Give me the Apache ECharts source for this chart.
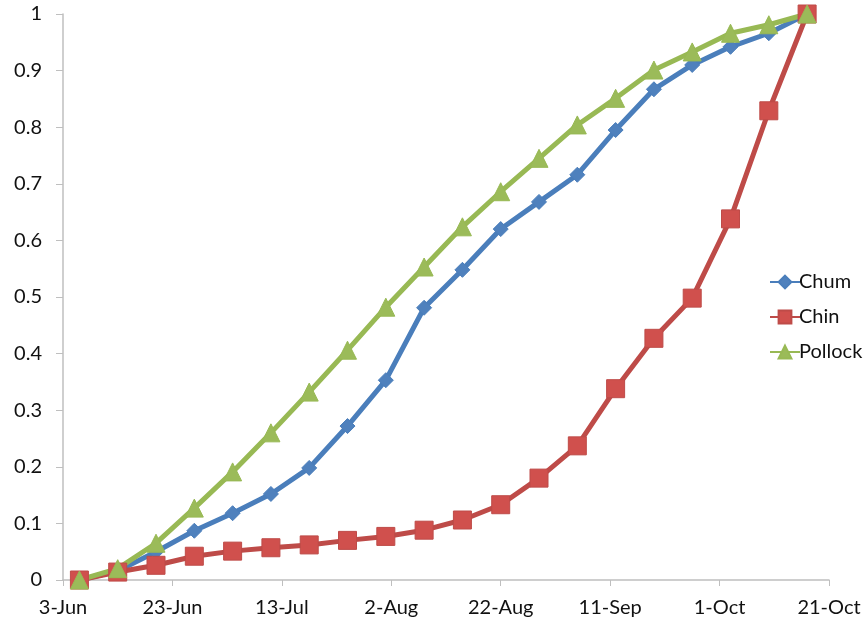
<!DOCTYPE html>
<html>
<head>
<meta charset="utf-8">
<script src="https://cdn.jsdelivr.net/npm/echarts@6/dist/echarts.min.js"></script>
<style>html,body{margin:0;padding:0;background:#fff}#c{width:865px;height:625px}</style>
</head>
<body>
<div id="c"></div>
<script>
var startDate = '2013-06-03';
var dates = ['2013-06-06','2013-06-13','2013-06-20','2013-06-27','2013-07-04','2013-07-11','2013-07-18','2013-07-25','2013-08-01','2013-08-08','2013-08-15','2013-08-22','2013-08-29','2013-09-05','2013-09-12','2013-09-19','2013-09-26','2013-10-03','2013-10-10','2013-10-17'];
var chum = [0, 0.016, 0.05, 0.087, 0.118, 0.152, 0.198, 0.272, 0.353, 0.481, 0.548, 0.620, 0.668, 0.716, 0.795, 0.867, 0.910, 0.942, 0.966, 1.0];
var chin = [0, 0.014, 0.026, 0.042, 0.051, 0.057, 0.062, 0.070, 0.077, 0.088, 0.106, 0.133, 0.180, 0.237, 0.338, 0.427, 0.498, 0.638, 0.829, 1.0];
var pollock = [0, 0.020, 0.065, 0.127, 0.191, 0.260, 0.332, 0.406, 0.482, 0.553, 0.624, 0.686, 0.745, 0.804, 0.851, 0.901, 0.933, 0.966, 0.981, 1.0];
var xTickStepDays = 20;
var xSpanDays = 140;

var MONTHS = ['Jan','Feb','Mar','Apr','May','Jun','Jul','Aug','Sep','Oct','Nov','Dec'];
function toUTC(s){var p=s.split('-');return Date.UTC(+p[0],+p[1]-1,+p[2]);}
var t0 = toUTC(startDate);
function dayOffset(s){return Math.round((toUTC(s)-t0)/86400000);}
function fmtDay(v){var d=new Date(t0+v*86400000);return d.getUTCDate()+'-'+MONTHS[d.getUTCMonth()];}
function pairs(vals){return dates.map(function(d,i){return [dayOffset(d), vals[i]];});}

var FONT = 'Lato';
var chart = echarts.init(document.getElementById('c'), null, {renderer:'canvas'});
function mk(name, vals, lineColor, fill, symbol, size){
  return {
    name:name, type:'line', data:pairs(vals), symbol:symbol, symbolSize:size,
    lineStyle:{color:lineColor, width:5},
    itemStyle:{color:fill, borderColor:lineColor, borderWidth:1},
    emphasis:{disabled:true}, animation:false
  };
}
chart.setOption({
  animation:false,
  backgroundColor:'#fff',
  grid:{left:63, right:36, top:14, bottom:45, containLabel:false},
  legend:{
    orient:'vertical', left:764, top:267, itemGap:15, itemWidth:30, itemHeight:16,
    textStyle:{fontFamily:FONT, fontSize:20, color:'#111', padding:[0,0,0,-6]},
    data:['Chum','Chin','Pollock']
  },
  xAxis:{
    type:'value', min:0, max:xSpanDays, interval:xTickStepDays,
    axisLine:{lineStyle:{color:'#bfbfbf', width:1.5}},
    axisTick:{show:true, length:6, lineStyle:{color:'#bfbfbf'}},
    splitLine:{show:false},
    axisLabel:{formatter:fmtDay, fontFamily:FONT, fontSize:20, color:'#111', margin:18}
  },
  yAxis:{
    type:'value', min:0, max:1, interval:0.1,
    axisLine:{show:true, lineStyle:{color:'#bfbfbf', width:1.5}},
    axisTick:{show:true, length:7, lineStyle:{color:'#bfbfbf'}},
    splitLine:{show:false},
    axisLabel:{fontFamily:FONT, fontSize:20, color:'#111', margin:21,
      formatter:function(v){return String(Math.round(v*10)/10);}}
  },
  series:[
    mk('Chum', chum, '#4A7EBB', '#4F81BD', 'diamond', 15),
    mk('Chin', chin, '#BE4B48', '#D0504D', 'rect', 18),
    mk('Pollock', pollock, '#98B954', '#9BBB59', 'triangle', 18)
  ]
});
</script>
</body>
</html>
